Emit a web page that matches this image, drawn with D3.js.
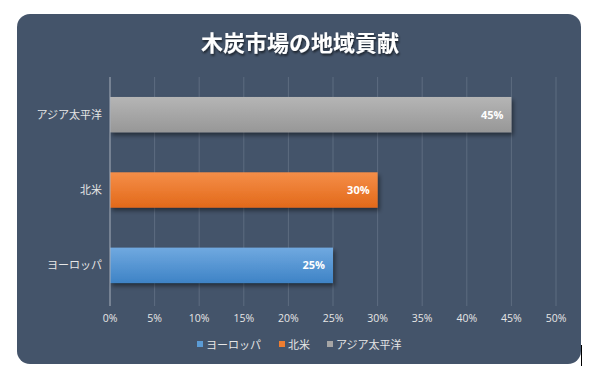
<!DOCTYPE html>
<html>
<head>
<meta charset="utf-8">
<script src="https://cdn.jsdelivr.net/npm/d3@7"></script>
<style>
  body { margin: 0; background: #fff; }
  svg { display: block; }
</style>
</head>
<body>
<div id="chart"></div>
<script>
const title = '木炭市場の地域貢献';
const categories = ['ヨーロッパ', '北米', 'アジア太平洋'];
const values = [25, 30, 45];
const colorsTop = ['#70a9e0', '#f58e48', '#b5b5b5'];
const colorsBottom = ['#3e83c6', '#e2691a', '#979797'];
const xTicks = [0, 5, 10, 15, 20, 25, 30, 35, 40, 45, 50];

const width = 605, height = 374;
const margin = { top: 77, right: 49, bottom: 71, left: 110 };
const w = width - margin.left - margin.right;
const h = height - margin.top - margin.bottom;
const cjk = '"Noto Sans CJK JP", "Noto Sans", sans-serif';
const latin = '"Open Sans", "Liberation Sans", sans-serif';

const svg = d3.select('#chart').append('svg')
  .attr('width', width).attr('height', height);

const defs = svg.append('defs');
categories.forEach((c, i) => {
  const g = defs.append('linearGradient').attr('id', 'grad' + i)
    .attr('x1', 0).attr('y1', 0).attr('x2', 0).attr('y2', 1);
  g.append('stop').attr('offset', '0%').attr('stop-color', colorsTop[i]);
  g.append('stop').attr('offset', '100%').attr('stop-color', colorsBottom[i]);
});
const shadow = defs.append('filter').attr('id', 'shadow')
  .attr('x', '-5%').attr('y', '-20%').attr('width', '115%').attr('height', '160%');
shadow.append('feDropShadow').attr('dx', 2).attr('dy', 3).attr('stdDeviation', 2)
  .attr('flood-color', '#000').attr('flood-opacity', 0.45);
const tshadow = defs.append('filter').attr('id', 'tshadow');
tshadow.append('feDropShadow').attr('dx', 1).attr('dy', 2).attr('stdDeviation', 1)
  .attr('flood-color', '#000').attr('flood-opacity', 0.6);

// Background panel
svg.append('rect')
  .attr('x', 17).attr('y', 14).attr('width', 564).attr('height', 350)
  .attr('rx', 13).attr('fill', '#44546a');

// Title
svg.append('text')
  .attr('x', 300).attr('y', 51)
  .attr('text-anchor', 'middle')
  .attr('fill', '#fff')
  .attr('font-family', cjk)
  .attr('font-weight', 'bold')
  .attr('font-size', '22px')
  .attr('filter', 'url(#tshadow)')
  .text(title);

const x = d3.scaleLinear().domain([0, 50]).range([0, w]);
const y = d3.scaleBand().domain(categories.slice().reverse()).range([0, h]).paddingInner(0.53).paddingOuter(0.265);

const g = svg.append('g').attr('transform', `translate(${margin.left},${margin.top})`);

// Gridlines
g.append('g').selectAll('line').data(xTicks.slice(1)).join('line')
  .attr('x1', d => x(d)).attr('x2', d => x(d))
  .attr('y1', 0).attr('y2', h + 3)
  .attr('stroke', '#5d6c80').attr('stroke-width', 1);

// Bars
g.append('g').selectAll('rect').data(categories).join('rect')
  .attr('x', 0)
  .attr('y', d => y(d))
  .attr('width', (d, i) => x(values[i]))
  .attr('height', y.bandwidth())
  .attr('fill', (d, i) => `url(#grad${i})`)
  .attr('filter', 'url(#shadow)');

// Value labels
g.append('g').selectAll('text').data(categories).join('text')
  .attr('x', (d, i) => x(values[i]) - 8)
  .attr('y', d => y(d) + y.bandwidth() / 2)
  .attr('dy', '0.35em')
  .attr('text-anchor', 'end')
  .attr('fill', '#fff')
  .attr('font-family', latin)
  .attr('font-weight', 'bold')
  .attr('font-size', '11px')
  .text((d, i) => values[i] + '%');

// Y axis line
g.append('line').attr('x1', 0).attr('x2', 0).attr('y1', 0).attr('y2', h + 3)
  .attr('stroke', '#a8b0bc').attr('stroke-width', 1);

// Category labels
g.append('g').selectAll('text').data(categories).join('text')
  .attr('x', -8)
  .attr('y', d => y(d) + y.bandwidth() / 2)
  .attr('dy', '0.35em')
  .attr('text-anchor', 'end')
  .attr('fill', '#e6e6e6')
  .attr('font-family', cjk)
  .attr('font-size', '11px')
  .text(d => d);

// X axis tick labels
g.append('g').selectAll('text').data(xTicks).join('text')
  .attr('x', d => x(d))
  .attr('y', h + 19)
  .attr('text-anchor', 'middle')
  .attr('fill', '#e6e6e6')
  .attr('font-family', latin)
  .attr('font-size', '10.5px')
  .text(d => d + '%');

// Legend
const legend = svg.append('g').attr('transform', 'translate(197,345)');
const legendItems = [
  { label: categories[0], color: '#5b9bd5', offset: 0 },
  { label: categories[1], color: '#ed7d31', offset: 82 },
  { label: categories[2], color: '#a5a5a5', offset: 130 }
];
const li = legend.selectAll('g').data(legendItems).join('g')
  .attr('transform', d => `translate(${d.offset},0)`);
li.append('rect').attr('x', 0).attr('y', -4).attr('width', 6).attr('height', 6)
  .attr('fill', d => d.color);
li.append('text').attr('x', 9).attr('y', 0).attr('dy', '0.35em')
  .attr('fill', '#e6e6e6').attr('font-family', cjk).attr('font-size', '11px')
  .text(d => d.label);

// stray cursor line at bottom-right
svg.append('line').attr('x1', 581.5).attr('x2', 581.5).attr('y1', 345).attr('y2', 366)
  .attr('stroke', '#000').attr('stroke-width', 1);
</script>
</body>
</html>
